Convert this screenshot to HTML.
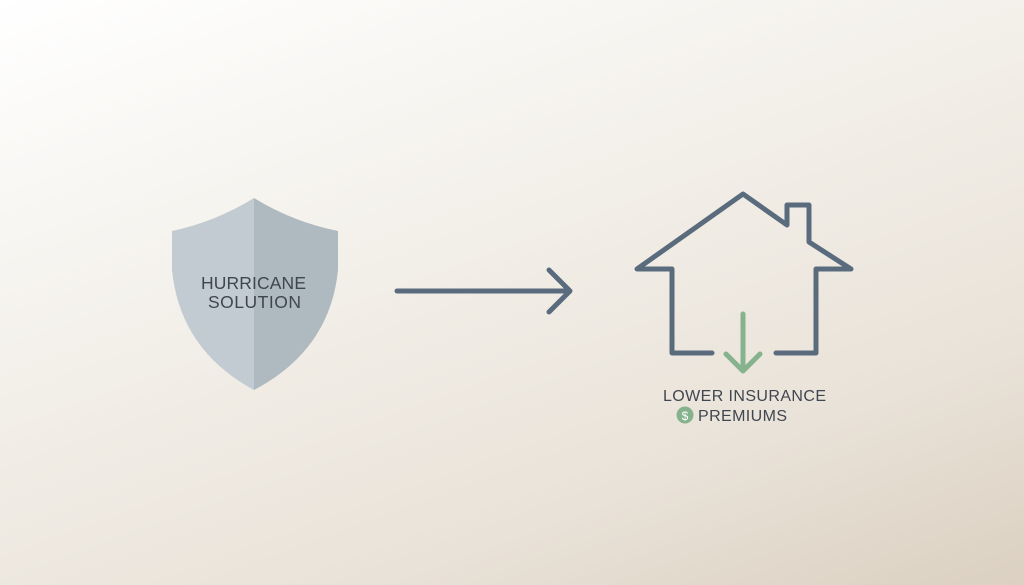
<!DOCTYPE html>
<html><head><style>
html,body{margin:0;padding:0;width:1024px;height:585px;overflow:hidden}
body{background:linear-gradient(160deg,#ffffff 0%,#f3f0ea 40%,#e9e2d8 75%,#dbd0c1 100%)}
</style></head><body>
<svg width="1024" height="585" viewBox="0 0 1024 585" style="position:absolute;left:0;top:0">
<path d="M254,198 Q215,222 172,231 L172,270 Q180,350 254,390 Z" fill="#c2cbd1"/>
<path d="M254,198 Q293,222 338,231 L338,270 Q330,350 254,390 Z" fill="#afb9c0"/>
<text x="201" y="289" textLength="105" font-family="Liberation Sans, sans-serif" font-size="17.5" fill="#3f4650">HURRICANE</text>
<text x="208" y="308" textLength="93" font-family="Liberation Sans, sans-serif" font-size="17.5" fill="#3f4650">SOLUTION</text>
<g fill="none" stroke="#5a6b7d" stroke-width="5" stroke-linecap="round" stroke-linejoin="round">
<line x1="397" y1="291" x2="569" y2="291"/>
<polyline points="549,270 570,291 549,312"/>
<polyline points="712,353 672,353 672,269 637,269 743,194 787,225 787,205 809,205 809,242 851,269 816,269 816,353 776,353"/>
</g>
<g fill="none" stroke="#86b28e" stroke-width="5" stroke-linecap="round" stroke-linejoin="round">
<line x1="743" y1="314" x2="743" y2="369"/>
<polyline points="726,354 743,371 760,354"/>
</g>
<text x="663" y="401" textLength="163" font-family="Liberation Sans, sans-serif" font-size="16" fill="#3f4650">LOWER INSURANCE</text>
<circle cx="685" cy="415" r="8.5" fill="#86b28e"/>
<text x="685" y="420" text-anchor="middle" font-family="Liberation Sans, sans-serif" font-size="12" fill="#fff">$</text>
<text x="698" y="421" textLength="89" font-family="Liberation Sans, sans-serif" font-size="16" fill="#3f4650">PREMIUMS</text>
</svg>
</body></html>
